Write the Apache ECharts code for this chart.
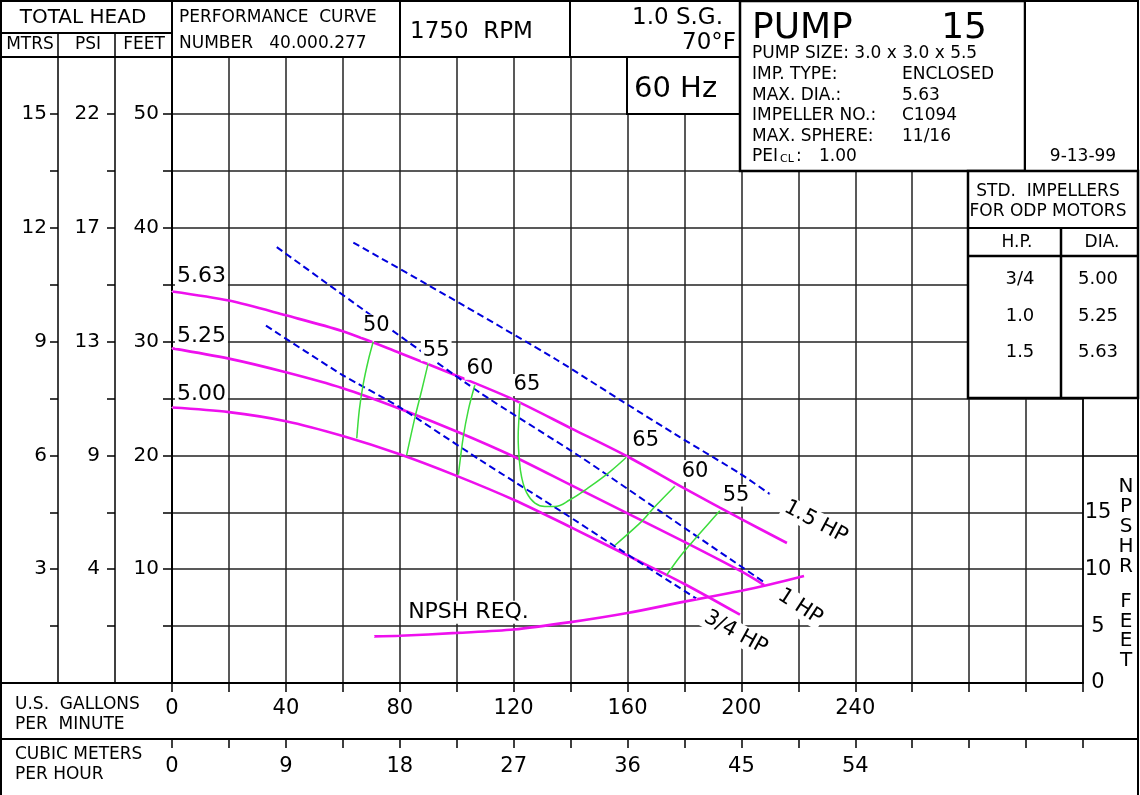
<!DOCTYPE html>
<html><head><meta charset="utf-8">
<script src="https://cdn.jsdelivr.net/npm/echarts@6/dist/echarts.min.js"></script>
<style>html,body{margin:0;padding:0;background:#fff}#c{width:1140px;height:795px}</style>
</head><body><div id="c"></div>
<script>
// ---------- tick labels ----------
const gpmTickLabels = [0, 40, 80, 120, 160, 200, 240];
const cmhTickLabels = [0, 9, 18, 27, 36, 45, 54];
const feetTickLabels = [10, 20, 30, 40, 50];
const psiTickLabels = [4, 9, 13, 17, 22];
const mtrsTickLabels = [3, 6, 9, 12, 15];
const npshTickLabels = [0, 5, 10, 15];

// ---------- head curves (GPM, feet) ----------
const impellerDiameters = ['5.63', '5.25', '5.00'];
const head563 = [[0,34.4],[20,33.6],[40,32.3],[60,30.9],[80,29.0],[100,27.0],[120,24.9],[140,22.4],[160,19.9],[180,17.1],[200,14.4],[216,12.3]];
const head525 = [[0,29.4],[20,28.5],[40,27.3],[60,25.9],[80,24.1],[100,22.1],[120,19.9],[140,17.4],[160,14.9],[180,12.4],[200,9.8],[208,8.6]];
const head500 = [[0,24.2],[20,23.8],[40,23.0],[60,21.7],[80,20.1],[100,18.2],[120,16.1],[140,13.7],[160,11.2],[180,8.7],[199.5,6.0]];

// ---------- horsepower lines ----------
const hpLabels = ['1.5 HP', '1 HP', '3/4 HP'];
const hp15 = [[63.7,38.7],[98.8,33.7],[135.1,28.4],[158.5,24.7],[178.4,21.6],[199.5,18.4],[210,16.6]];
const hp10 = [[36.8,38.3],[67.2,32.8],[108.2,25.5],[143.3,19.9],[171.4,15.1],[208.3,8.8]];
const hp34 = [[33.0,31.4],[59.6,27.1],[79.5,24.3],[108.2,19.6],[136.9,15.05],[155.0,12.1],[184.3,7.4]];

// ---------- efficiency curves ----------
const effLabels = ['50', '55', '60', '65', '65', '60', '55'];
const eff50 = [[70.7,30.0],[69.0,28.4],[67.2,26.3],[65.8,24.0],[64.9,21.5]];
const eff55L = [[90.0,28.1],[87.7,25.7],[85.4,23.4],[82.4,20.0]];
const eff60L = [[106.4,26.2],[104.1,24.0],[102.3,21.6],[100.6,18.3]];
const eff65 = [[122.2,24.6],[121.9,23.4],[121.6,21.6],[122.0,19.6],[122.8,18.1],[124.6,16.7],[127.5,15.8],[131.0,15.5],[134.5,15.5],[139.8,16.1],[146.8,17.25],[153.8,18.55],[159.7,19.85]];
const eff60R = [[176.7,17.3],[169.1,15.35],[165.0,14.2],[155.6,12.1]];
const eff55R = [[192.5,15.15],[184.9,13.0],[178.4,11.1],[173.8,9.5]];

// ---------- NPSH required (GPM, feet) ----------
const npshLabel = 'NPSH REQ.';
const npsh = [[71,4.1],[80,4.15],[100,4.4],[120,4.7],[140,5.35],[160,6.15],[180,7.15],[200,8.1],[210,8.65],[222,9.4]];

// ---------- header / table texts ----------
const pumpInfoKeys = ['IMP. TYPE:', 'MAX. DIA.:', 'IMPELLER NO.:', 'MAX. SPHERE:'];
const pumpInfoVals = ['ENCLOSED', '5.63', 'C1094', '11/16'];
const stdHP = ['3/4', '1.0', '1.5'];
const stdDia = ['5.00', '5.25', '5.63'];

const FONT = 'DejaVu Sans';
const MAG = '#ee10ee', GREEN = '#3cdc3c', BLUE = '#0000dd', GRID = '#222';

function curve(data, color, width, opts) {
  opts = opts || {};
  return {
    type: 'line', data: data, xAxisIndex: 0, yAxisIndex: opts.y || 0,
    showSymbol: false, symbol: 'none', smooth: opts.smooth == null ? 0.3 : opts.smooth,
    silent: true, z: 3,
    lineStyle: { color: color, width: width, type: opts.dash || 'solid' }
  };
}
function rot(dx, dy, deg) {
  const r = deg * Math.PI / 180, c = Math.cos(r), s = Math.sin(r);
  return [c * dx - s * dy, s * dx + c * dy];
}
function labelAt(pt, text, o) {
  const fs = o.fontSize || 21;
  return {
    type: 'scatter', data: [pt], xAxisIndex: 0, yAxisIndex: o.y || 0,
    symbol: 'rect', symbolSize: 1, itemStyle: { color: '#fff', opacity: 1 },
    silent: true, z: 10,
    label: {
      show: true, position: 'inside', formatter: text,
      offset: o.rotate ? rot(o.offset[0], o.offset[1], o.rotate) : o.offset,
      rotate: o.rotate || 0, align: o.align || 'center', verticalAlign: 'middle',
      fontFamily: FONT, fontSize: fs, color: '#000', opacity: 1, textBorderWidth: 0,
      backgroundColor: '#fff', padding: [0, 2], lineHeight: fs + 1
    }
  };
}
function last(a) { return a[a.length - 1]; }

function L(x1, y1, x2, y2, w) {
  return { type: 'line', silent: true, z: 50, shape: { x1: x1, y1: y1, x2: x2, y2: y2 }, style: { stroke: '#000', lineWidth: w || 2 } };
}
function R(x, y, w, h, lw) {
  return { type: 'rect', silent: true, z: 49, shape: { x: x, y: y, width: w, height: h }, style: { fill: '#fff', stroke: '#000', lineWidth: lw || 2 } };
}
function T(text, x, y, size, align) {
  return { type: 'text', silent: true, z: 55, x: x, y: y,
    style: { text: text, font: size + 'px "' + FONT + '"', fill: '#000',
      textAlign: align || 'left', textVerticalAlign: 'middle', align: align || 'left', verticalAlign: 'middle' } };
}

const gfx = [
  R(627, 57, 113, 57, 2),
  R(740, 1, 285, 170, 2.5),
  R(1025, 1, 113, 170, 2),
  R(968, 171, 170, 227, 2.5),
  L(968, 228, 1138, 228, 2), L(968, 256, 1138, 256, 2.5), L(1061, 228, 1061, 398, 2.5),
  L(0, 33, 172, 33, 2), L(0, 57, 740, 57, 2),
  L(58, 33, 58, 57, 1.5), L(115, 33, 115, 57, 1.5),
  L(172, 0, 172, 57, 2), L(400, 0, 400, 57, 2), L(570, 0, 570, 57, 2),
  L(1083, 456, 1138, 456, 1.5),
  L(0, 683, 172, 683, 2), L(0, 739, 1138, 739, 2),
  { type: 'rect', silent: true, z: 60, shape: { x: 1, y: 1, width: 1137, height: 810 }, style: { fill: 'transparent', stroke: '#000', lineWidth: 2 } },
  T('TOTAL HEAD', 83, 18, 20, 'center'),
  T('MTRS', 30, 45, 17, 'center'), T('PSI', 88, 45, 17, 'center'), T('FEET', 144, 45, 17, 'center'),
  T('PERFORMANCE  CURVE', 179, 18, 17), T('NUMBER   40.000.277', 179, 44, 17),
  T('1750  RPM', 410, 32, 23),
  T('1.0 S.G.', 723, 18, 23, 'right'), T('70°F', 736, 43, 23, 'right'),
  T('60 Hz', 634, 89, 29),
  T('PUMP', 752, 29, 36), T('15', 987, 29, 36, 'right'),
  T('PUMP SIZE: 3.0 x 3.0 x 5.5', 752, 54, 17),
  T('PEI', 752, 157, 17), T('CL', 780, 159, 11), T(':', 796, 157, 17), T('1.00', 819, 157, 17),
  T('9-13-99', 1083, 157, 17, 'center'),
  T('STD.  IMPELLERS', 1048, 192, 17, 'center'), T('FOR ODP MOTORS', 1048, 212, 17, 'center'),
  T('H.P.', 1017, 243, 17, 'center'), T('DIA.', 1102, 243, 17, 'center'),
  T('U.S.  GALLONS', 15, 705, 17), T('PER  MINUTE', 15, 725, 17),
  T('CUBIC METERS', 15, 755, 17), T('PER HOUR', 15, 775, 17)
];
pumpInfoKeys.forEach(function (k, i) {
  const y = [75, 96, 116, 137][i];
  gfx.push(T(k, 752, y, 17), T(pumpInfoVals[i], 902, y, 17));
});
stdHP.forEach(function (h, i) {
  const y = [279, 316, 352][i];
  gfx.push(T(h, 1020, y, 18, 'center'), T(stdDia[i], 1098, y, 18, 'center'));
});
'NPSHR'.split('').forEach(function (ch, i) { gfx.push(T(ch, 1126, 487 + 20 * i, 20, 'center')); });
'FEET'.split('').forEach(function (ch, i) { gfx.push(T(ch, 1126, 602 + 19.5 * i, 20, 'center')); });

function mapFmt(src, dst) {
  return function (v) {
    for (let i = 0; i < src.length; i++) if (Math.abs(src[i] - v) < 1e-6) return String(dst[i]);
    return '';
  };
}
const tickStyle = { color: '#000', width: 1.5 };
const labelBase = { fontFamily: FONT, color: '#000' };

const option = {
  animation: false,
  backgroundColor: '#fff',
  grid: { left: 172, top: 57, width: 911, height: 626, show: false },
  xAxis: [
    { type: 'value', min: 0, max: 320, interval: 20, position: 'bottom',
      axisLine: { show: true, onZero: false, lineStyle: { color: '#000', width: 2 } },
      axisTick: { show: true, length: 9, lineStyle: tickStyle },
      axisLabel: Object.assign({ margin: 15, fontSize: 21, formatter: mapFmt(gpmTickLabels, gpmTickLabels) }, labelBase),
      splitLine: { show: true, lineStyle: { color: GRID, width: 1.5 } } },
    { type: 'value', min: 0, max: 72, interval: 4.5, position: 'bottom', offset: 56,
      axisLine: { show: false, onZero: false },
      axisTick: { show: true, length: 9, lineStyle: tickStyle },
      axisLabel: Object.assign({ margin: 17, fontSize: 21, formatter: mapFmt(cmhTickLabels, cmhTickLabels) }, labelBase),
      splitLine: { show: false } }
  ],
  yAxis: [
    { type: 'value', min: 0, max: 55, interval: 5, position: 'left',
      axisLine: { show: true, onZero: false, lineStyle: { color: '#000', width: 2 } },
      axisTick: { show: true, length: 9, lineStyle: tickStyle },
      axisLabel: Object.assign({ margin: 13, fontSize: 20, formatter: mapFmt(feetTickLabels, feetTickLabels) }, labelBase),
      splitLine: { show: true, lineStyle: { color: GRID, width: 1.5 } } },
    { type: 'value', min: 0, max: 55, interval: 5, position: 'left', offset: 57,
      axisLine: { show: true, onZero: false, lineStyle: { color: '#000', width: 1.5 } },
      axisTick: { show: true, length: 8, lineStyle: tickStyle },
      axisLabel: Object.assign({ margin: 15, fontSize: 20, formatter: mapFmt(feetTickLabels, psiTickLabels) }, labelBase),
      splitLine: { show: false } },
    { type: 'value', min: 0, max: 55, interval: 5, position: 'left', offset: 114,
      axisLine: { show: true, onZero: false, lineStyle: { color: '#000', width: 1.5 } },
      axisTick: { show: true, length: 8, lineStyle: tickStyle },
      axisLabel: Object.assign({ margin: 11, fontSize: 20, formatter: mapFmt(feetTickLabels, mtrsTickLabels) }, labelBase),
      splitLine: { show: false } },
    { type: 'value', min: 0, max: 55, interval: 5, position: 'right', offset: 0,
      axisLine: { show: true, onZero: false, lineStyle: { color: '#000', width: 1.5 } },
      axisTick: { show: false },
      axisLabel: Object.assign({ margin: 15, fontSize: 21, align: 'center', formatter: mapFmt(npshTickLabels, npshTickLabels) }, labelBase),
      splitLine: { show: false } }
  ],
  series: [
    curve(head563, MAG, 2.6), curve(head525, MAG, 2.6), curve(head500, MAG, 2.6),
    curve(hp15, BLUE, 2, { dash: [7, 4], smooth: 0.2 }),
    curve(hp10, BLUE, 2, { dash: [7, 4], smooth: 0.2 }),
    curve(hp34, BLUE, 2, { dash: [7, 4], smooth: 0.2 }),
    curve(eff50, GREEN, 1.5), curve(eff55L, GREEN, 1.5), curve(eff60L, GREEN, 1.5),
    curve(eff65, GREEN, 1.5, { smooth: 0.4 }), curve(eff60R, GREEN, 1.5), curve(eff55R, GREEN, 1.5),
    curve(npsh, MAG, 2.6, { y: 3 }),
    labelAt(head563[0], impellerDiameters[0], { offset: [3, -15], align: 'left', fontSize: 22 }),
    labelAt(head525[0], impellerDiameters[1], { offset: [3, -12], align: 'left', fontSize: 22 }),
    labelAt(head500[0], impellerDiameters[2], { offset: [3, -13], align: 'left', fontSize: 22 }),
    labelAt(eff50[0], effLabels[0], { offset: [3, -16] }),
    labelAt(eff55L[0], effLabels[1], { offset: [8, -13] }),
    labelAt(eff60L[0], effLabels[2], { offset: [5, -16] }),
    labelAt(eff65[0], effLabels[3], { offset: [7, -18] }),
    labelAt(last(eff65), effLabels[4], { offset: [19, -17] }),
    labelAt(eff60R[0], effLabels[5], { offset: [20, -15] }),
    labelAt(eff55R[0], effLabels[6], { offset: [16, -15] }),
    labelAt(npsh[0], npshLabel, { offset: [32, -24], align: 'left', fontSize: 22, y: 3 }),
    labelAt(last(hp15), hpLabels[0], { offset: [46, 28], rotate: -28, fontSize: 21 }),
    labelAt(last(hp10), hpLabels[1], { offset: [35, 24], rotate: -33, fontSize: 21 }),
    labelAt(last(hp34), hpLabels[2], { offset: [39, 34], rotate: -29, fontSize: 21 })
  ],
  graphic: { elements: gfx }
};
const chart = echarts.init(document.getElementById('c'), null, { renderer: 'canvas' });
chart.setOption(option);
</script></body></html>
